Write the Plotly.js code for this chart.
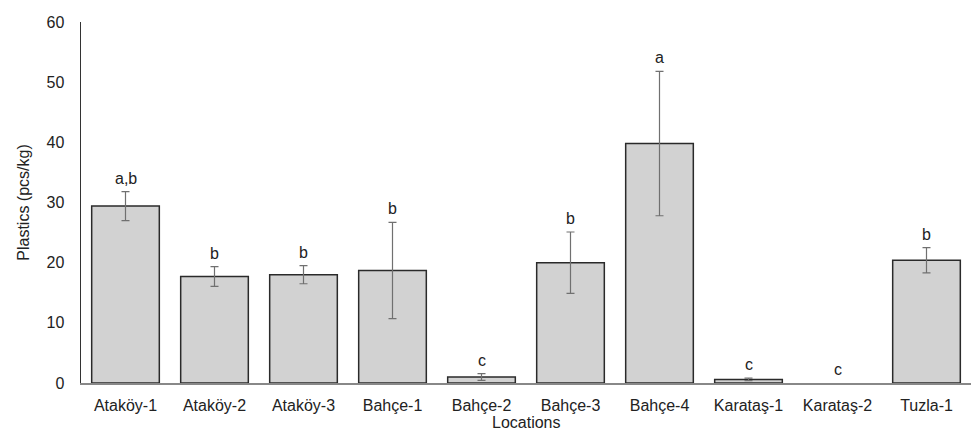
<!DOCTYPE html>
<html>
<head>
<meta charset="utf-8">
<script src="https://cdn.plot.ly/plotly-3.0.1.min.js"></script>
<style>html,body{margin:0;padding:0;background:#fff;}#chart{width:974px;height:433px;}</style>
</head>
<body>
<div id="chart"></div>
<script>
const locations = ["Ataköy-1","Ataköy-2","Ataköy-3","Bahçe-1","Bahçe-2","Bahçe-3","Bahçe-4","Karataş-1","Karataş-2","Tuzla-1"];
const means = [29.4, 17.7, 18.0, 18.7, 1.0, 20.0, 39.8, 0.6, 0, 20.4];
const errors = [2.4, 1.65, 1.5, 8.0, 0.55, 5.1, 12.0, 0.2, 0, 2.1];
const groups = ["a,b","b","b","b","c","b","a","c","c","b"];
const yTicks = [0,10,20,30,40,50,60];

const FONT = 'Liberation Sans, Arial, sans-serif';

const trace = {
  type: 'bar',
  x: locations,
  y: means,
  marker: {color: '#d2d2d2', line: {color: '#2a2a2a', width: means.map(v => v > 0 ? 1.5 : 0)}},
  error_y: {type: 'data', array: errors.map(e => e > 0 ? e : NaN), visible: true, color: '#707070', thickness: 1.2, width: 4},
  hoverinfo: 'none'
};

const annotations = locations.map((loc, i) => ({
  x: loc, y: means[i] + errors[i], xref: 'x', yref: 'y',
  text: groups[i], showarrow: false, yanchor: 'bottom', yshift: 3,
  font: {family: FONT, size: 16, color: '#222'}
}));
annotations.push({
  x: 0.5, y: 0, xref: 'paper', yref: 'paper', yanchor: 'bottom', yshift: -50,
  text: 'Locations', showarrow: false, font: {family: FONT, size: 16, color: '#222'}
});

const layout = {
  width: 974, height: 433,
  margin: {l: 81, r: 3, t: 22, b: 50},
  paper_bgcolor: '#fff', plot_bgcolor: '#fff',
  showlegend: false,
  bargap: 0.24,
  font: {family: FONT, size: 16, color: '#222'},
  xaxis: {
    showline: true, linecolor: '#888', linewidth: 1.5,
    ticks: '', ticklabelstandoff: 7,
    tickfont: {size: 16, color: '#222'},
    zeroline: false, showgrid: false
  },
  yaxis: {
    range: [0, 60], tickvals: yTicks, ticktext: yTicks.map(String),
    showline: true, linecolor: '#333', linewidth: 1.5,
    ticks: '', ticklabelstandoff: 12,
    tickfont: {size: 16, color: '#222'},
    title: {text: 'Plastics (pcs/kg)', font: {size: 16, color: '#222'}, standoff: 13},
    zeroline: false, showgrid: false
  },
  annotations: annotations
};

Plotly.newPlot('chart', [trace], layout, {displayModeBar: false, staticPlot: true});
</script>
</body>
</html>
